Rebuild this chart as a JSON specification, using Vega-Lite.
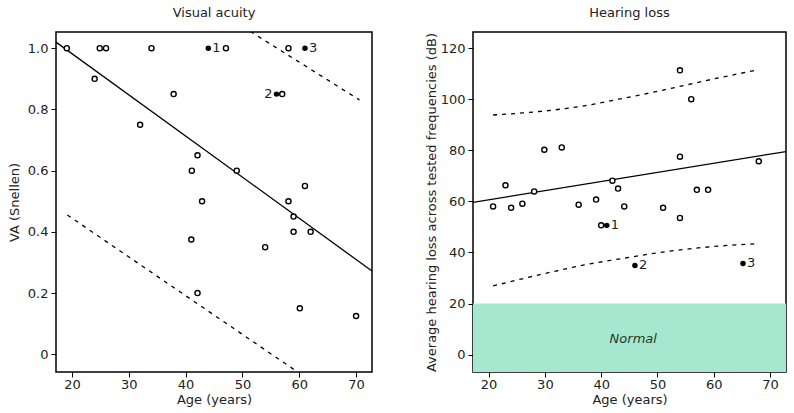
{
  "$schema": "https://vega.github.io/schema/vega-lite/v6.json",
  "padding": {"left": 7, "top": 6, "right": 6, "bottom": 2},
  "spacing": 51,
  "config": {
    "font": "DejaVu Sans",
    "view": {"stroke": "#000", "strokeWidth": 1.5},
    "axis": {"grid": false, "domain": false, "tickColor": "#000", "tickSize": 5, "labelFontSize": 13, "titleFontSize": 13, "labelColor": "#222", "titleColor": "#222", "titleFontWeight": "normal", "labelPadding": 3},
    "axisX": {"labelPadding": 1},
    "title": {"fontSize": 13, "fontWeight": "normal", "color": "#222", "offset": 12}
  },
  "datasets": {
    "va": [
      {"age": 19.1, "va": 1.0, "id": ""},
      {"age": 24.9, "va": 1.0, "id": ""},
      {"age": 26.0, "va": 1.0, "id": ""},
      {"age": 34.0, "va": 1.0, "id": ""},
      {"age": 44.0, "va": 1.0, "id": "1"},
      {"age": 47.1, "va": 1.0, "id": ""},
      {"age": 58.1, "va": 1.0, "id": ""},
      {"age": 61.0, "va": 1.0, "id": "3"},
      {"age": 24.0, "va": 0.9, "id": ""},
      {"age": 37.9, "va": 0.85, "id": ""},
      {"age": 56.0, "va": 0.85, "id": "2"},
      {"age": 57.0, "va": 0.85, "id": ""},
      {"age": 32.0, "va": 0.75, "id": ""},
      {"age": 42.1, "va": 0.65, "id": ""},
      {"age": 41.1, "va": 0.6, "id": ""},
      {"age": 49.0, "va": 0.6, "id": ""},
      {"age": 61.0, "va": 0.55, "id": ""},
      {"age": 42.9, "va": 0.5, "id": ""},
      {"age": 58.1, "va": 0.5, "id": ""},
      {"age": 59.0, "va": 0.45, "id": ""},
      {"age": 59.0, "va": 0.4, "id": ""},
      {"age": 62.0, "va": 0.4, "id": ""},
      {"age": 41.0, "va": 0.375, "id": ""},
      {"age": 54.0, "va": 0.35, "id": ""},
      {"age": 42.1, "va": 0.2, "id": ""},
      {"age": 60.1, "va": 0.15, "id": ""},
      {"age": 70.0, "va": 0.125, "id": ""}
    ],
    "vafit": [
      {"age": 17.2, "va": 1.02, "kind": "fit"},
      {"age": 72.8, "va": 0.272, "kind": "fit"},
      {"age": 19.2, "va": 1.43, "kind": "upper"},
      {"age": 70.6, "va": 0.831, "kind": "upper"},
      {"age": 19.2, "va": 0.455, "kind": "lower"},
      {"age": 70.6, "va": -0.196, "kind": "lower"}
    ],
    "hl": [
      {"age": 20.8, "db": 58.0, "id": ""},
      {"age": 23.0, "db": 66.3, "id": ""},
      {"age": 24.0, "db": 57.5, "id": ""},
      {"age": 26.0, "db": 59.1, "id": ""},
      {"age": 28.1, "db": 63.9, "id": ""},
      {"age": 29.9, "db": 80.2, "id": ""},
      {"age": 33.0, "db": 81.1, "id": ""},
      {"age": 36.0, "db": 58.7, "id": ""},
      {"age": 39.1, "db": 60.7, "id": ""},
      {"age": 40.0, "db": 50.6, "id": ""},
      {"age": 41.0, "db": 50.6, "id": "1"},
      {"age": 42.0, "db": 68.1, "id": ""},
      {"age": 43.0, "db": 65.0, "id": ""},
      {"age": 44.1, "db": 58.0, "id": ""},
      {"age": 46.0, "db": 34.9, "id": "2"},
      {"age": 51.0, "db": 57.5, "id": ""},
      {"age": 54.0, "db": 111.3, "id": ""},
      {"age": 54.0, "db": 77.5, "id": ""},
      {"age": 54.0, "db": 53.5, "id": ""},
      {"age": 56.0, "db": 100.0, "id": ""},
      {"age": 57.0, "db": 64.5, "id": ""},
      {"age": 59.0, "db": 64.5, "id": ""},
      {"age": 65.2, "db": 35.7, "id": "3"},
      {"age": 68.0, "db": 75.7, "id": ""}
    ],
    "hlfit": [
      {"age": 17.23, "db": 59.6, "kind": "fit"},
      {"age": 72.84, "db": 79.5, "kind": "fit"},
      {"age": 20.8, "db": 93.8, "kind": "upper"},
      {"age": 26.0, "db": 94.6, "kind": "upper"},
      {"age": 31.3, "db": 95.7, "kind": "upper"},
      {"age": 37.0, "db": 97.4, "kind": "upper"},
      {"age": 43.1, "db": 100.0, "kind": "upper"},
      {"age": 49.0, "db": 102.6, "kind": "upper"},
      {"age": 55.2, "db": 105.6, "kind": "upper"},
      {"age": 61.0, "db": 108.4, "kind": "upper"},
      {"age": 67.5, "db": 111.3, "kind": "upper"},
      {"age": 20.8, "db": 26.9, "kind": "lower"},
      {"age": 26.0, "db": 29.7, "kind": "lower"},
      {"age": 31.3, "db": 32.4, "kind": "lower"},
      {"age": 37.0, "db": 35.1, "kind": "lower"},
      {"age": 43.1, "db": 37.4, "kind": "lower"},
      {"age": 49.0, "db": 39.5, "kind": "lower"},
      {"age": 55.2, "db": 41.3, "kind": "lower"},
      {"age": 61.0, "db": 42.5, "kind": "lower"},
      {"age": 67.5, "db": 43.4, "kind": "lower"}
    ],
    "normal": [
      {"lo": -20, "hi": 20, "age": 45.7, "db": 6.3, "label": "Normal"}
    ]
  },
  "hconcat": [
    {
      "title": "Visual acuity",
      "width": 316,
      "height": 340,
      "layer": [
        {
          "data": {"name": "vafit"},
          "transform": [{"filter": "datum.kind == 'fit'"}],
          "mark": {"type": "line", "color": "#000", "strokeWidth": 1.3, "clip": true},
          "encoding": {
            "x": {"field": "age", "type": "quantitative", "scale": {"domain": [17.2, 72.8], "nice": false, "zero": false}, "axis": {"values": [20, 30, 40, 50, 60, 70], "title": "Age (years)", "titlePadding": 2}},
            "y": {"field": "va", "type": "quantitative", "scale": {"domain": [-0.058, 1.053], "nice": false, "zero": false}, "axis": {"values": [0, 0.2, 0.4, 0.6, 0.8, 1.0], "labelExpr": "datum.value == 0 ? '0' : format(datum.value, '.1f')", "title": "VA (Snellen)", "titlePadding": 6}}
          }
        },
        {
          "data": {"name": "vafit"},
          "transform": [{"filter": "datum.kind != 'fit'"}],
          "mark": {"type": "line", "color": "#000", "strokeWidth": 1.3, "strokeDash": [4, 5], "clip": true},
          "encoding": {
            "x": {"field": "age", "type": "quantitative"},
            "y": {"field": "va", "type": "quantitative"},
            "detail": {"field": "kind"}
          }
        },
        {
          "data": {"name": "va"},
          "transform": [{"filter": "datum.id == ''"}],
          "mark": {"type": "point", "shape": "circle", "size": 26, "stroke": "#000", "strokeWidth": 1.4, "fill": "#fff", "filled": false, "opacity": 1},
          "encoding": {
            "x": {"field": "age", "type": "quantitative"},
            "y": {"field": "va", "type": "quantitative"}
          }
        },
        {
          "data": {"name": "va"},
          "transform": [{"filter": "datum.id != ''"}],
          "mark": {"type": "point", "shape": "circle", "size": 30, "filled": true, "color": "#000", "opacity": 1},
          "encoding": {
            "x": {"field": "age", "type": "quantitative"},
            "y": {"field": "va", "type": "quantitative"}
          }
        },
        {
          "data": {"name": "va"},
          "transform": [{"filter": "datum.id == '1' || datum.id == '3'"}],
          "mark": {"type": "text", "align": "left", "dx": 4, "fontSize": 13, "color": "#222"},
          "encoding": {
            "x": {"field": "age", "type": "quantitative"},
            "y": {"field": "va", "type": "quantitative"},
            "text": {"field": "id"}
          }
        },
        {
          "data": {"name": "va"},
          "transform": [{"filter": "datum.id == '2'"}],
          "mark": {"type": "text", "align": "right", "dx": -4, "fontSize": 13, "color": "#222"},
          "encoding": {
            "x": {"field": "age", "type": "quantitative"},
            "y": {"field": "va", "type": "quantitative"},
            "text": {"field": "id"}
          }
        }
      ]
    },
    {
      "title": "Hearing loss",
      "width": 313,
      "height": 340,
      "layer": [
        {
          "data": {"name": "normal"},
          "mark": {"type": "rect", "color": "#a6e8cf", "opacity": 1, "clip": true},
          "encoding": {
            "x": {"value": 0},
            "x2": {"value": "width"},
            "y": {"field": "lo", "type": "quantitative", "scale": {"domain": [-6.8, 126.3], "nice": false, "zero": false}, "axis": {"values": [0, 20, 40, 60, 80, 100, 120], "title": "Average hearing loss across tested frequencies (dB)", "titlePadding": 2}},
            "y2": {"field": "hi"}
          }
        },
        {
          "data": {"name": "normal"},
          "mark": {"type": "text", "fontStyle": "italic", "fontSize": 13, "color": "#1e3a2c"},
          "encoding": {
            "x": {"field": "age", "type": "quantitative", "scale": {"domain": [17.23, 72.84], "nice": false, "zero": false}, "axis": {"values": [20, 30, 40, 50, 60, 70], "title": "Age (years)", "titlePadding": 2}},
            "y": {"field": "db", "type": "quantitative"},
            "text": {"field": "label"}
          }
        },
        {
          "data": {"name": "hlfit"},
          "transform": [{"filter": "datum.kind == 'fit'"}],
          "mark": {"type": "line", "color": "#000", "strokeWidth": 1.3, "clip": true},
          "encoding": {
            "x": {"field": "age", "type": "quantitative"},
            "y": {"field": "db", "type": "quantitative"}
          }
        },
        {
          "data": {"name": "hlfit"},
          "transform": [{"filter": "datum.kind != 'fit'"}],
          "mark": {"type": "line", "color": "#000", "strokeWidth": 1.3, "strokeDash": [4, 5], "interpolate": "monotone", "clip": true},
          "encoding": {
            "x": {"field": "age", "type": "quantitative"},
            "y": {"field": "db", "type": "quantitative"},
            "detail": {"field": "kind"}
          }
        },
        {
          "data": {"name": "hl"},
          "transform": [{"filter": "datum.id == ''"}],
          "mark": {"type": "point", "shape": "circle", "size": 26, "stroke": "#000", "strokeWidth": 1.4, "fill": "#fff", "filled": false, "opacity": 1},
          "encoding": {
            "x": {"field": "age", "type": "quantitative"},
            "y": {"field": "db", "type": "quantitative"}
          }
        },
        {
          "data": {"name": "hl"},
          "transform": [{"filter": "datum.id != ''"}],
          "mark": {"type": "point", "shape": "circle", "size": 30, "filled": true, "color": "#000", "opacity": 1},
          "encoding": {
            "x": {"field": "age", "type": "quantitative"},
            "y": {"field": "db", "type": "quantitative"}
          }
        },
        {
          "data": {"name": "hl"},
          "transform": [{"filter": "datum.id != ''"}],
          "mark": {"type": "text", "align": "left", "dx": 4, "fontSize": 13, "color": "#222"},
          "encoding": {
            "x": {"field": "age", "type": "quantitative"},
            "y": {"field": "db", "type": "quantitative"},
            "text": {"field": "id"}
          }
        }
      ]
    }
  ]
}
